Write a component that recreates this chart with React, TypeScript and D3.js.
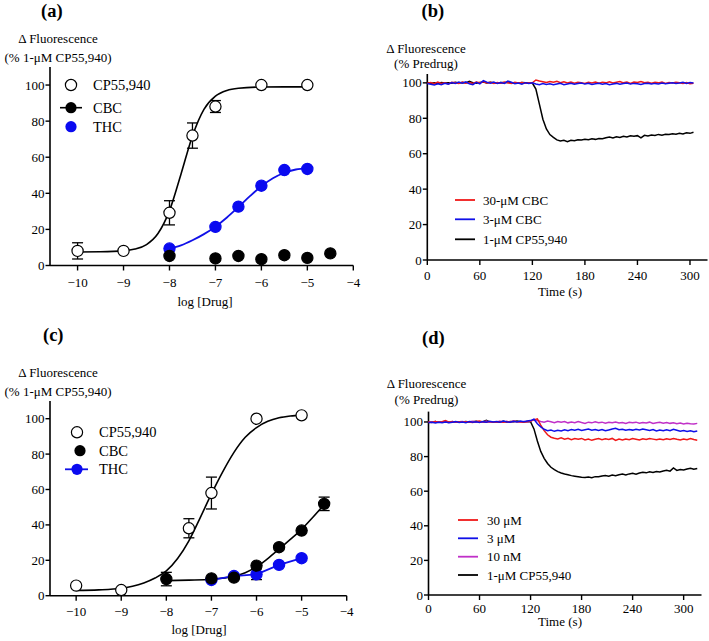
import React from 'react';
import * as d3 from 'd3';

const FONT = "'Liberation Serif','Times New Roman',serif";

// ---------- Panel (a) data ----------
const A_CP_X = [-10, -9, -8, -7.5, -7, -6, -5];
const A_CP_Y = [8.1, 8.1, 29.2, 72, 88.1, 100, 100];
const A_CP_ERR = [4.5, 0, 6.7, 7, 3.3, 0, 0];
const A_CBC_X = [-8, -7, -6.5, -6, -5.5, -5, -4.5];
const A_CBC_Y = [5.3, 3.9, 5.3, 3.5, 5.7, 4.2, 6.7];
const A_THC_X = [-8, -7, -6.5, -6, -5.5, -5];
const A_THC_Y = [9.4, 21.4, 32.6, 44.2, 52.9, 53.5];
const A_CP_FIT_X = [-10, -9.5, -9, -8.75, -8.5, -8.25, -8, -7.75, -7.5, -7.25, -7, -6.75, -6.5, -6, -5.5, -5];
const A_CP_FIT_Y = [7.5, 7.6, 8.1, 9.1, 11.6, 17.7, 30.4, 50.6, 71.8, 86.5, 93.8, 97.0, 98.2, 98.9, 99, 99];
const A_THC_FIT_X = [-8, -7.75, -7.5, -7.25, -7, -6.75, -6.5, -6.25, -6, -5.75, -5.5, -5.25, -5];
const A_THC_FIT_Y = [9.4, 11.2, 14, 17.4, 21.5, 26.6, 32.4, 38.4, 43.9, 48.3, 51.4, 53.2, 54.0];

// ---------- Panel (c) data ----------
const C_CP_X = [-10, -9, -7.5, -7, -6, -5];
const C_CP_Y = [5.7, 3.2, 38.1, 58, 100, 101.9];
const C_CP_ERR = [0, 0, 5.4, 9, 0, 0];
const C_CBC_X = [-8, -7, -6.5, -6, -5.5, -5, -4.5];
const C_CBC_Y = [9.4, 9.8, 10.2, 17, 27.4, 36.8, 51.9];
const C_CBC_ERR = [3.8, 0, 0, 0, 0, 0, 3.8];
const C_THC_X = [-7, -6.5, -6, -5.5, -5];
const C_THC_Y = [8.9, 11.1, 12.1, 17.4, 21.2];
const C_THC_ERR = [0, 0, 3, 0, 0];
const C_CP_FIT_X = [-10, -9.5, -9, -8.75, -8.5, -8.25, -8, -7.75, -7.5, -7.25, -7, -6.75, -6.5, -6.25, -6, -5.75, -5.5, -5.25, -5];
const C_CP_FIT_Y = [3.0, 3.3, 4.2, 5.3, 7.2, 10, 14, 21, 31, 44, 57.5, 70, 81, 89.5, 95, 98.5, 100.5, 101.5, 102];
const C_CBC_FIT_X = [-8, -7.5, -7, -6.5, -6.25, -6, -5.75, -5.5, -5.25, -5, -4.75, -4.5];
const C_CBC_FIT_Y = [8.5, 8.8, 9.3, 11, 13, 16.3, 21, 26.3, 31.8, 37.5, 44.3, 51.5];

const DOSE_X_TICKS = [-10, -9, -8, -7, -6, -5, -4];
const PCT_Y_TICKS = [0, 20, 40, 60, 80, 100];
const TIME_X_TICKS = [0, 60, 120, 180, 240, 300];

// ---------- Panel (b) traces (sampled every 4 s from 0 s) ----------
const B_STEP = 4;
const B_RED = [
  99.8, 100.2, 99.5, 100.4, 99.7, 100.1, 99.4, 100.3, 100.0, 99.6,
  100.5, 99.8, 100.2, 99.7, 100.4, 100.0, 100.6, 99.9, 100.3, 99.6,
  100.2, 99.8, 100.5, 100.1, 99.7, 100.3, 99.9, 100.2, 99.8, 100.1,
  100.0, 101.6, 101.0, 100.6, 100.2, 100.8, 100.3, 100.9, 100.1, 100.6,
  100.0, 100.5, 99.8, 100.4, 100.1, 99.6, 100.3, 99.9, 100.5, 99.8,
  100.4, 100.0, 100.6, 99.9, 100.3, 100.7, 100.0, 100.4, 99.7, 100.5,
  100.2, 100.8, 100.1, 100.4, 99.8, 100.3, 100.0, 100.5, 99.7, 100.2,
  99.9, 100.4, 100.0, 99.6, 100.2, 99.5, 99.8,
];
const B_BLUE = [
  99.6, 99.2, 98.8, 99.5, 99.0, 99.8, 99.3, 100.2, 99.6, 100.4,
  99.8, 100.6, 99.5, 99.0, 100.3, 99.4, 101.2, 100.4, 99.8, 100.5,
  99.6, 100.2, 99.7, 101.0, 100.3, 99.5, 99.9, 99.2, 100.1, 99.6,
  100.0, 99.4, 99.0, 99.6, 99.1, 99.5, 98.9, 99.3, 99.7, 99.0,
  99.4, 99.8, 99.2, 99.6, 99.9, 99.3, 99.7, 99.1, 99.5, 99.8,
  99.2, 99.6, 98.9, 99.4, 99.7, 99.2, 99.6, 99.9, 99.3, 99.7,
  99.5, 99.1, 99.6, 99.8, 99.3, 99.7, 99.4, 99.9, 99.5, 99.8,
  100.1, 99.6, 99.9, 100.3, 99.7, 100.2, 99.9,
];
const B_BLACK = [
  100.0, 99.8, 100.1, 99.7, 100.2, 99.9, 100.1, 99.8, 100.3, 99.9,
  100.2, 100.0, 100.9, 100.1, 99.8, 100.2, 100.5, 99.9, 100.3, 100.0,
  99.8, 100.2, 100.0, 100.4, 99.9, 100.1, 99.8, 100.2, 100.0, 100.1,
  99.9, 96.5, 88.0, 79.5, 74.0, 70.8, 69.2, 67.8, 67.2, 67.6,
  66.8, 67.6, 67.3, 67.9, 67.7, 68.2, 67.9, 68.4, 68.1, 68.6,
  68.4, 69.0, 69.4, 68.9, 69.6, 69.2, 69.9, 69.5, 70.1, 69.8,
  70.2, 68.9, 70.4, 70.0, 70.6, 70.3, 70.9, 70.5, 71.0, 70.8,
  71.3, 71.0, 71.6, 71.2, 71.8, 71.5, 72.1,
];

// ---------- Panel (d) traces (sampled every 4 s from 0 s) ----------
const D_STEP = 4;
const D_MAGENTA = [
  100.1, 99.8, 100.3, 99.9, 100.2, 100.0, 99.7, 100.2, 99.9, 100.1,
  100.3, 99.8, 100.1, 100.4, 99.9, 100.2, 100.0, 100.5, 99.9, 100.2,
  100.1, 100.4, 99.8, 100.3, 100.0, 100.6, 100.2, 99.9, 100.3, 100.1,
  100.4, 101.6, 100.8, 100.3, 99.9, 100.5, 100.1, 99.6, 100.3, 99.8,
  100.2, 99.5, 100.0, 99.6, 100.3, 99.7, 99.2, 99.9, 99.5, 100.1,
  99.6, 99.9, 99.3, 99.8, 99.5, 100.0, 99.4, 99.7, 99.2, 99.8,
  99.5, 99.9, 99.3, 99.7, 99.4, 99.9, 99.2, 99.6, 99.8, 99.3,
  99.7, 99.2, 99.5, 99.0, 99.4, 98.9, 99.3, 99.0, 98.8, 99.2,
];
const D_BLUE = [
  99.5, 99.8, 99.4, 99.9, 99.6, 100.0, 99.5, 99.9, 100.2, 99.7,
  100.0, 99.6, 100.3, 99.8, 100.1, 99.7, 100.2, 99.9, 100.4, 100.0,
  100.3, 99.8, 100.5, 100.1, 99.9, 100.4, 100.0, 100.6, 100.2, 100.5,
  100.8, 101.6, 99.0, 97.2, 95.8, 95.0, 95.4, 94.6, 95.2, 94.8,
  95.5, 95.0, 95.6, 95.2, 95.8, 95.1, 95.5, 95.9, 95.3, 95.7,
  95.1, 95.6, 94.9, 95.4, 95.9, 96.3, 95.5, 95.8, 95.2, 95.6,
  95.3, 95.8, 95.4, 95.9, 95.5, 95.1, 95.6, 94.8, 95.3, 95.0,
  95.5, 94.9, 95.8, 95.2, 94.6, 95.0, 94.5, 94.9, 94.4, 94.8,
];
const D_RED = [
  100.0, 99.7, 100.2, 99.8, 100.1, 100.8, 99.9, 100.2, 99.8, 100.1,
  99.9, 100.2, 100.0, 99.7, 100.3, 100.5, 100.0, 99.8, 100.2, 100.0,
  99.8, 100.2, 99.9, 100.3, 100.0, 100.4, 100.1, 100.2, 99.9, 100.3,
  100.5, 101.2, 101.8, 98.2, 95.0, 92.6, 91.2, 90.6, 90.2, 90.8,
  90.1, 90.6, 89.8, 90.4, 90.0, 90.5, 89.6, 90.2, 89.4, 90.0,
  90.4, 89.8, 90.3, 89.9, 90.5, 89.3, 90.1, 89.6, 90.2, 89.8,
  90.4, 90.0, 89.6, 90.3, 89.9, 90.5, 90.1, 89.7, 90.2, 89.8,
  90.3, 89.9, 90.5, 90.0, 89.6, 90.2, 89.8, 90.4, 89.9, 89.5,
];
const D_BLACK = [
  100.0, 99.8, 100.2, 99.9, 100.1, 100.3, 99.8, 100.1, 99.9, 100.2,
  100.0, 100.3, 99.9, 100.1, 100.4, 99.8, 100.2, 101.0, 100.1, 99.9,
  100.2, 100.0, 100.4, 99.9, 100.3, 100.1, 100.5, 100.2, 100.0, 100.3,
  100.2, 96.0, 89.0, 83.0, 79.0, 76.0, 73.8, 72.4, 71.3, 70.5,
  69.9, 69.5, 69.0, 68.7, 68.4, 68.1, 67.9, 68.2, 67.8, 68.4,
  68.3, 68.8, 69.1, 68.7, 69.3, 69.0, 69.5, 69.9, 69.4, 70.0,
  70.3, 69.8, 70.5, 70.9, 70.6, 71.2, 70.8, 71.4, 71.1, 71.7,
  72.1, 71.6, 73.4, 72.0, 72.5, 72.2, 72.8, 73.3, 72.7, 73.1,
];

const RED = '#f01818';
const BLUE = '#1010e8';
const MAGENTA = '#c030c8';
const MARKER_BLUE = '#0a0af0';

const fmt = (v: number) => (v < 0 ? '\u2212' + Math.abs(v) : String(v));

type Sc = d3.ScaleLinear<number, number>;

function Axes({ x, y, xTicks, yTicks, labelOffset }: { x: Sc; y: Sc; xTicks: number[]; yTicks: number[]; labelOffset: number }) {
  const [x0, x1] = x.range();
  const [y0, y1] = y.range();
  return (
    <g fontFamily={FONT} fontSize={13} fill="#000">
      <line x1={x0} x2={x0} y1={y0} y2={y1} stroke="#000" strokeWidth={1.6} />
      <line x1={x0} x2={x1} y1={y0} y2={y0} stroke="#000" strokeWidth={1.6} />
      {yTicks.map((t) => (
        <g key={'y' + t}>
          <line x1={x0 - 4.5} x2={x0} y1={y(t)} y2={y(t)} stroke="#000" strokeWidth={1.4} />
          <text x={x0 - 5.5} y={y(t) + 4.5} textAnchor="end">{fmt(t)}</text>
        </g>
      ))}
      {xTicks.map((t) => (
        <g key={'x' + t}>
          <line x1={x(t)} x2={x(t)} y1={y0} y2={y0 + 5} stroke="#000" strokeWidth={1.4} />
          <text x={x(t)} y={y0 + labelOffset} textAnchor="middle">{fmt(t)}</text>
        </g>
      ))}
    </g>
  );
}

function ErrorBars({ x, y, xs, ys, errs }: { x: Sc; y: Sc; xs: number[]; ys: number[]; errs: number[] }) {
  return (
    <g stroke="#000" strokeWidth={1.3}>
      {xs.map((v, i) =>
        errs[i] > 0 ? (
          <g key={i}>
            <line x1={x(v)} x2={x(v)} y1={y(ys[i] - errs[i])} y2={y(ys[i] + errs[i])} />
            <line x1={x(v) - 5.5} x2={x(v) + 5.5} y1={y(ys[i] + errs[i])} y2={y(ys[i] + errs[i])} />
            <line x1={x(v) - 5.5} x2={x(v) + 5.5} y1={y(ys[i] - errs[i])} y2={y(ys[i] - errs[i])} />
          </g>
        ) : null
      )}
    </g>
  );
}

function Markers({ x, y, xs, ys, fill, stroke }: { x: Sc; y: Sc; xs: number[]; ys: number[]; fill: string; stroke: string }) {
  return (
    <g>
      {xs.map((v, i) => (
        <circle key={i} cx={x(v)} cy={y(ys[i])} r={5.6} fill={fill} stroke={stroke} strokeWidth={1.2} />
      ))}
    </g>
  );
}

function curvePath(x: Sc, y: Sc, xs: number[], ys: number[], curve: d3.CurveFactory) {
  const pts: [number, number][] = xs.map((v, i) => [v, ys[i]]);
  return d3.line<[number, number]>().x((d) => x(d[0])).y((d) => y(d[1])).curve(curve)(pts) || '';
}

function tracePath(x: Sc, y: Sc, vals: number[], step: number) {
  return d3.line<number>().x((_, i) => x(i * step)).y((d) => y(d))(vals) || '';
}

function YLabel({ cx, y1, y2, l1, l2 }: { cx: number; y1: number; y2: number; l1: string; l2: string }) {
  return (
    <g fontFamily={FONT} fontSize={13} textAnchor="middle">
      <text x={cx} y={y1}>{l1}</text>
      <text x={cx} y={y2}>{l2}</text>
    </g>
  );
}

function Title({ x, y, t }: { x: number; y: number; t: string }) {
  return (
    <text x={x} y={y} fontFamily={FONT} fontSize={18.5} fontWeight="bold">{t}</text>
  );
}

export default function App() {
  // Panel (a)
  const ax = d3.scaleLinear().domain([-10.6, -4]).range([50, 353.3]);
  const ay = d3.scaleLinear().domain([0, 110]).range([265.5, 67]);
  // Panel (c)
  const cx = d3.scaleLinear().domain([-10.58, -4]).range([50, 346.7]);
  const cy = d3.scaleLinear().domain([0, 110]).range([595.7, 401]);
  // Panel (b)
  const bx = d3.scaleLinear().domain([0, 320]).range([427.3, 707.5]);
  const by = d3.scaleLinear().domain([0, 105]).range([260, 74]);
  // Panel (d)
  const dx = d3.scaleLinear().domain([0, 321]).range([428.5, 701.5]);
  const dy = d3.scaleLinear().domain([0, 106]).range([595, 411.6]);

  return (
    <svg width={709} height={641} style={{ position: 'absolute', left: 0, top: 0, background: '#fff' }}>
      <rect width={709} height={641} fill="#fff" />

      {/* ---------------- (a) ---------------- */}
      <Title x={41} y={17} t="(a)" />
      <YLabel cx={58} y1={43} y2={62} l1={'\u0394 Fluorescence'} l2={'(% 1-\u03bcM CP55,940)'} />
      <Axes x={ax} y={ay} xTicks={DOSE_X_TICKS} yTicks={PCT_Y_TICKS} labelOffset={21} />
      <text x={205} y={306} fontFamily={FONT} fontSize={13} textAnchor="middle">log [Drug]</text>
      <path d={curvePath(ax, ay, A_CP_FIT_X, A_CP_FIT_Y, d3.curveMonotoneX)} fill="none" stroke="#000" strokeWidth={1.6} />
      <path d={curvePath(ax, ay, A_THC_FIT_X, A_THC_FIT_Y, d3.curveMonotoneX)} fill="none" stroke={BLUE} strokeWidth={1.8} />
      <ErrorBars x={ax} y={ay} xs={A_CP_X} ys={A_CP_Y} errs={A_CP_ERR} />
      <Markers x={ax} y={ay} xs={A_THC_X} ys={A_THC_Y} fill={MARKER_BLUE} stroke={MARKER_BLUE} />
      <Markers x={ax} y={ay} xs={A_CBC_X} ys={A_CBC_Y} fill="#000" stroke="#000" />
      <Markers x={ax} y={ay} xs={A_CP_X} ys={A_CP_Y} fill="#fff" stroke="#000" />
      {/* legend (a) */}
      <g fontFamily={FONT} fontSize={14.5}>
        <circle cx={71} cy={85} r={5.6} fill="#fff" stroke="#000" strokeWidth={1.2} />
        <text x={93} y={90}>CP55,940</text>
        <line x1={60} x2={82} y1={107.7} y2={107.7} stroke="#000" strokeWidth={1.6} />
        <circle cx={71} cy={107.7} r={5.6} fill="#000" />
        <text x={93} y={112.7}>CBC</text>
        <circle cx={71} cy={126.7} r={5.6} fill={MARKER_BLUE} />
        <text x={93} y={131.7}>THC</text>
      </g>

      {/* ---------------- (b) ---------------- */}
      <Title x={421.5} y={17} t="(b)" />
      <YLabel cx={426} y1={53} y2={67.5} l1={'\u0394 Fluorescence'} l2="(% Predrug)" />
      <Axes x={bx} y={by} xTicks={TIME_X_TICKS} yTicks={PCT_Y_TICKS} labelOffset={20} />
      <text x={560} y={296} fontFamily={FONT} fontSize={13} textAnchor="middle">Time (s)</text>
      <path d={tracePath(bx, by, B_BLACK, B_STEP)} fill="none" stroke="#000" strokeWidth={1.5} />
      <path d={tracePath(bx, by, B_RED, B_STEP)} fill="none" stroke={RED} strokeWidth={1.5} />
      <path d={tracePath(bx, by, B_BLUE, B_STEP)} fill="none" stroke={BLUE} strokeWidth={1.5} />
      <g fontFamily={FONT} fontSize={13}>
        <line x1={455} x2={475} y1={200} y2={200} stroke={RED} strokeWidth={1.8} />
        <text x={483} y={204.5}>30-μM CBC</text>
        <line x1={455} x2={475} y1={219.3} y2={219.3} stroke={BLUE} strokeWidth={1.8} />
        <text x={483} y={223.8}>3-μM CBC</text>
        <line x1={455} x2={475} y1={239.3} y2={239.3} stroke="#000" strokeWidth={1.8} />
        <text x={483} y={243.8}>1-μM CP55,940</text>
      </g>

      {/* ---------------- (c) ---------------- */}
      <Title x={43} y={341} t="(c)" />
      <YLabel cx={58} y1={377} y2={396} l1={'\u0394 Fluorescence'} l2={'(% 1-\u03bcM CP55,940)'} />
      <Axes x={cx} y={cy} xTicks={DOSE_X_TICKS} yTicks={PCT_Y_TICKS} labelOffset={20.5} />
      <text x={199} y={634} fontFamily={FONT} fontSize={13} textAnchor="middle">log [Drug]</text>
      <path d={curvePath(cx, cy, C_CP_FIT_X, C_CP_FIT_Y, d3.curveMonotoneX)} fill="none" stroke="#000" strokeWidth={1.6} />
      <path d={curvePath(cx, cy, C_CBC_FIT_X, C_CBC_FIT_Y, d3.curveMonotoneX)} fill="none" stroke="#000" strokeWidth={1.6} />
      <path d={curvePath(cx, cy, C_THC_X, C_THC_Y, d3.curveLinear)} fill="none" stroke={BLUE} strokeWidth={1.8} />
      <ErrorBars x={cx} y={cy} xs={C_THC_X} ys={C_THC_Y} errs={C_THC_ERR} />
      <Markers x={cx} y={cy} xs={C_THC_X} ys={C_THC_Y} fill={MARKER_BLUE} stroke={MARKER_BLUE} />
      <ErrorBars x={cx} y={cy} xs={C_CBC_X} ys={C_CBC_Y} errs={C_CBC_ERR} />
      <Markers x={cx} y={cy} xs={C_CBC_X} ys={C_CBC_Y} fill="#000" stroke="#000" />
      <ErrorBars x={cx} y={cy} xs={C_CP_X} ys={C_CP_Y} errs={C_CP_ERR} />
      <Markers x={cx} y={cy} xs={C_CP_X} ys={C_CP_Y} fill="#fff" stroke="#000" />
      <g fontFamily={FONT} fontSize={14.5}>
        <circle cx={77} cy={432.3} r={5.6} fill="#fff" stroke="#000" strokeWidth={1.2} />
        <text x={99} y={437.3}>CP55,940</text>
        <circle cx={80} cy={450.7} r={5.6} fill="#000" />
        <text x={99} y={455.7}>CBC</text>
        <line x1={65} x2={88} y1={469.3} y2={469.3} stroke={BLUE} strokeWidth={1.8} />
        <circle cx={77} cy={469.3} r={5.6} fill={MARKER_BLUE} />
        <text x={99} y={474.3}>THC</text>
      </g>

      {/* ---------------- (d) ---------------- */}
      <Title x={422} y={344} t="(d)" />
      <YLabel cx={426.5} y1={388} y2={404} l1={'\u0394 Fluorescence'} l2="(% Predrug)" />
      <Axes x={dx} y={dy} xTicks={TIME_X_TICKS} yTicks={PCT_Y_TICKS} labelOffset={18} />
      <text x={560} y={626} fontFamily={FONT} fontSize={13} textAnchor="middle">Time (s)</text>
      <path d={tracePath(dx, dy, D_BLACK, D_STEP)} fill="none" stroke="#000" strokeWidth={1.5} />
      <path d={tracePath(dx, dy, D_MAGENTA, D_STEP)} fill="none" stroke={MAGENTA} strokeWidth={1.5} />
      <path d={tracePath(dx, dy, D_RED, D_STEP)} fill="none" stroke={RED} strokeWidth={1.5} />
      <path d={tracePath(dx, dy, D_BLUE, D_STEP)} fill="none" stroke={BLUE} strokeWidth={1.5} />
      <g fontFamily={FONT} fontSize={13}>
        <line x1={458} x2={478} y1={520} y2={520} stroke={RED} strokeWidth={1.8} />
        <text x={487} y={524.5}>30 μM</text>
        <line x1={458} x2={478} y1={538.3} y2={538.3} stroke={BLUE} strokeWidth={1.8} />
        <text x={487} y={542.8}>3 μM</text>
        <line x1={458} x2={478} y1={556.7} y2={556.7} stroke={MAGENTA} strokeWidth={1.8} />
        <text x={487} y={561.2}>10 nM</text>
        <line x1={458} x2={478} y1={575} y2={575} stroke="#000" strokeWidth={1.8} />
        <text x={487} y={579.5}>1-μM CP55,940</text>
      </g>
    </svg>
  );
}
